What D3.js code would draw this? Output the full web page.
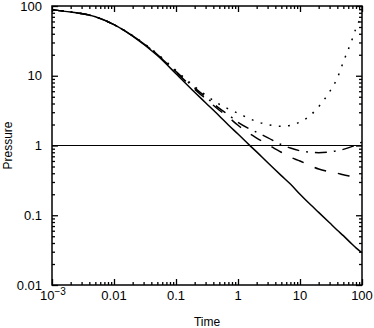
<!DOCTYPE html>
<html>
<head>
<meta charset="utf-8">
<script src="https://cdn.jsdelivr.net/npm/d3@7"></script>
<style>
  body { margin: 0; background: #fff; }
  #chart text { font-family: "Liberation Sans", Arial, sans-serif; fill: #000; }
</style>
</head>
<body>
<div id="chart"></div>
<script>
// values
const times = [0.001, 0.002, 0.005, 0.01, 0.02, 0.05, 0.1, 0.2, 0.3, 0.5, 0.7, 1, 1.5, 2, 3, 5, 7, 10, 15, 20, 30, 40, 50, 70, 80, 100];
const solid_p = [88, 82, 70, 54, 37, 19.5, 10.7, 5.8, 4.1, 2.65, 1.97, 1.46, 1.03, 0.81, 0.57, 0.37, 0.28, 0.2, 0.14, 0.11, 0.078, 0.061, 0.051, 0.038, 0.034, 0.029];
const dotted_p = [88, 82, 70, 54, 37.6, 20.6, 11.9, 7.0, 5.3, 3.9, 3.35, 2.9, 2.45, 2.2, 2.0, 1.88, 1.95, 2.17, 2.75, 3.6, 5.9, 9.3, 15.8, 34, 48, 72];
const dashdot_p = [88, 82, 70, 54, 37.3, 20.2, 11.5, 6.7, 5.0, 3.4, 2.75, 2.15, 1.75, 1.55, 1.3, 1.03, 0.92, 0.84, 0.8, 0.79, 0.81, 0.84, 0.88, 0.97, 1.02, 1.12];
const dashed_p = [88, 82, 70, 54, 37.2, 20.0, 11.2, 6.4, 4.7, 3.2, 2.55, 1.95, 1.5, 1.28, 1.04, 0.8, 0.68, 0.6, 0.51, 0.46, 0.42, 0.4, 0.38, 0.36, 0.35, 0.34];
const ref_level = 1;
const x_ticks = [0.001, 0.01, 0.1, 1, 10, 100];
const x_labels = ['10', '0.01', '0.1', '1', '10', '100'];
const y_ticks = [0.01, 0.1, 1, 10, 100];
const y_labels = ['0.01', '0.1', '1', '10', '100'];

const config_size = {
  svg_width: 374,
  svg_height: 328,
  plot_margin: { left: 52, right: 12, top: 6, bottom: 43 },
};

const svg = d3.select('#chart').append('svg')
  .attr('width', config_size.svg_width)
  .attr('height', config_size.svg_height);

const plot_width = config_size.svg_width - config_size.plot_margin.left - config_size.plot_margin.right;
const plot_height = config_size.svg_height - config_size.plot_margin.top - config_size.plot_margin.bottom;

const plot_g = svg.append('g')
  .attr('transform', `translate(${config_size.plot_margin.left},${config_size.plot_margin.top})`);

const x = d3.scaleLog().domain([0.001, 100]).range([0, plot_width]);
const y = d3.scaleLog().domain([0.01, 100]).range([plot_height, 0]);

// minor ticks 2..9 in every decade
function minors(lo, hi) {
  const out = [];
  for (let e = lo; e < hi; e++) {
    for (let k = 2; k <= 9; k++) out.push(k * Math.pow(10, e));
  }
  return out;
}
const x_minor = minors(-3, 2);
const y_minor = minors(-2, 2);

function tickAxis(axis, scale, vals, size) {
  return axis(scale).tickValues(vals).tickSize(-size).tickFormat('');
}

// inward ticks on all four sides
const sides = [
  { a: d3.axisBottom, s: x, t: `translate(0,${plot_height})`, major: x_ticks, minor: x_minor },
  { a: d3.axisTop, s: x, t: 'translate(0,0)', major: x_ticks, minor: x_minor },
  { a: d3.axisLeft, s: y, t: 'translate(0,0)', major: y_ticks, minor: y_minor },
  { a: d3.axisRight, s: y, t: `translate(${plot_width},0)`, major: y_ticks, minor: y_minor },
];
sides.forEach(sd => {
  const g1 = plot_g.append('g').attr('transform', sd.t).call(tickAxis(sd.a, sd.s, sd.major, 6));
  const g2 = plot_g.append('g').attr('transform', sd.t).call(tickAxis(sd.a, sd.s, sd.minor, 3));
  [g1, g2].forEach(g => {
    g.select('.domain').remove();
    g.selectAll('line').attr('stroke', '#000').attr('stroke-width', 1.3);
  });
});

// tick labels
const xl = plot_g.append('g').attr('transform', `translate(0,${plot_height})`);
xl.selectAll('text').data(x_ticks).join('text')
  .attr('x', d => x(d))
  .attr('y', 15)
  .attr('text-anchor', 'middle')
  .style('font-size', '13px')
  .each(function(d, i) {
    const t = d3.select(this);
    t.append('tspan').text(x_labels[i]);
    if (i === 0) {
      t.attr('x', x(d) + 1);
      t.append('tspan').attr('dy', -5).style('font-size', '10px').text('\u22123');
    }
  });

plot_g.append('g').selectAll('text').data(y_ticks).join('text')
  .attr('x', -10)
  .attr('y', d => y(d))
  .attr('dy', '0.35em')
  .attr('text-anchor', 'end')
  .style('font-size', '13px')
  .text((d, i) => y_labels[i]);

// axis titles
svg.append('text')
  .attr('x', config_size.plot_margin.left + plot_width / 2)
  .attr('y', 326)
  .attr('text-anchor', 'middle')
  .style('font-size', '12px')
  .text('Time');

svg.append('text')
  .attr('transform', `translate(12,${config_size.plot_margin.top + plot_height / 2}) rotate(-90)`)
  .attr('text-anchor', 'middle')
  .style('font-size', '12px')
  .text('Pressure');

// reference line at pressure 1
plot_g.append('line')
  .attr('x1', 0).attr('x2', plot_width)
  .attr('y1', y(ref_level)).attr('y2', y(ref_level))
  .attr('stroke', '#000').attr('stroke-width', 1);

// curves
const line = d3.line()
  .x(d => x(d.t))
  .y(d => y(d.p))
  .curve(d3.curveMonotoneX);

const series = [
  { vals: dotted_p, dash: '1.8,7.5' },
  { vals: dashdot_p, dash: '12,7,1.8,7' },
  { vals: dashed_p, dash: '12,12' },
  { vals: solid_p, dash: null },
];
series.forEach(s => {
  plot_g.append('path')
    .datum(times.map((t, i) => ({ t: t, p: s.vals[i] })))
    .attr('fill', 'none')
    .attr('stroke', '#000')
    .attr('stroke-width', 1.5)
    .attr('stroke-dasharray', s.dash)
    .attr('d', line);
});

// frame
plot_g.append('rect')
  .attr('width', plot_width)
  .attr('height', plot_height)
  .attr('fill', 'none')
  .attr('stroke', '#000')
  .attr('stroke-width', 1.5);
</script>
</body>
</html>
